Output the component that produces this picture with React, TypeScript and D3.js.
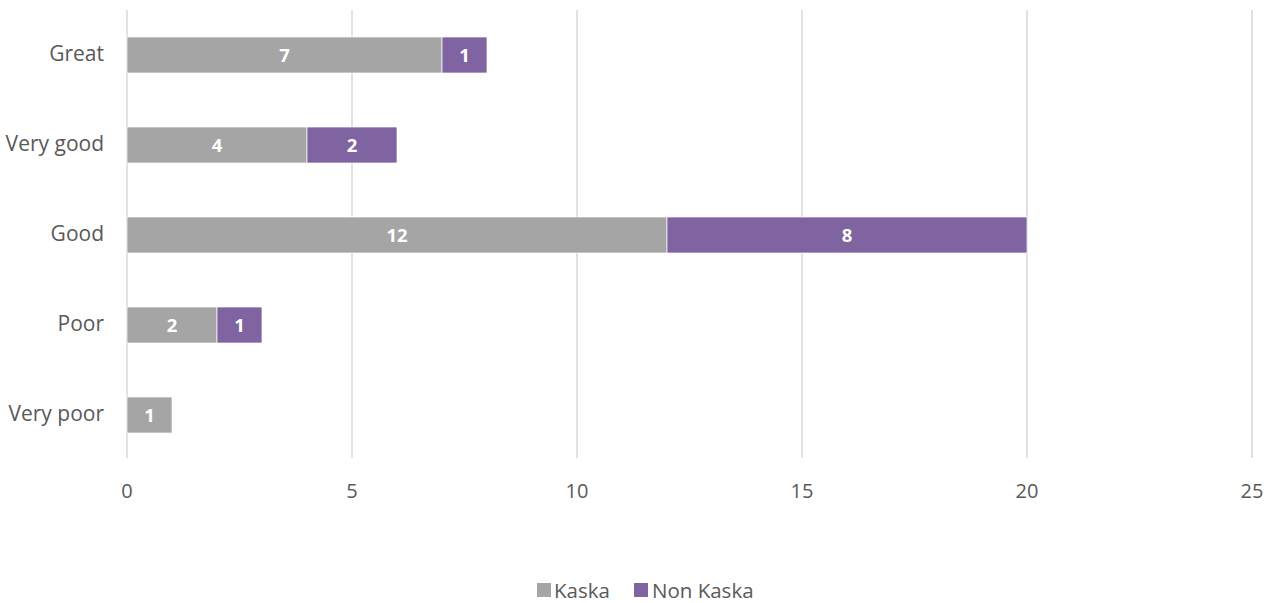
import React from "react";
import * as d3 from "d3";

const categories = ["Great", "Very good", "Good", "Poor", "Very poor"];
const kaska = [7, 4, 12, 2, 1];
const nonKaska = [1, 2, 8, 1, 0];
const xTicks = [0, 5, 10, 15, 20, 25];
const seriesNames = ["Kaska", "Non Kaska"];
const colors = ["#A5A5A5", "#8064A2"];

export default function App() {
  const W = 1276, H = 603;
  const left = 127, right = 1252, top = 10, bottom = 460;
  const x = d3.scaleLinear().domain([0, 25]).range([left, right]);
  const y = d3.scaleBand().domain(categories).range([top, bottom]).paddingInner(0.6).paddingOuter(0.3);
  const font = "'Open Sans', sans-serif";
  const series = [kaska, nonKaska];
  return (
    <svg width={W} height={H} style={{ position: "absolute", left: 0, top: 0 }} fontFamily={font}>
      {xTicks.map((t) => (
        <line key={t} x1={x(t)} x2={x(t)} y1={top} y2={bottom - 2} stroke="#D9D9D9" strokeWidth={1.5} />
      ))}
      {categories.map((c, i) => {
        let acc = 0;
        return (
          <g key={c}>
            {series.map((s, si) => {
              const v = s[i];
              const x0 = acc;
              acc += v;
              if (!v) return null;
              return (
                <g key={si}>
                  <rect x={x(x0)} y={y(c)!} width={x(x0 + v) - x(x0)} height={y.bandwidth()} fill={colors[si]} stroke="#fff" strokeWidth={0.7} />
                  <text x={(x(x0) + x(x0 + v)) / 2} y={y(c)! + y.bandwidth() / 2} dy="0.38em" textAnchor="middle" fill="#fff" fontWeight="bold" fontSize={18.5}>{v}</text>
                </g>
              );
            })}
            <text x={104} y={y(c)! + y.bandwidth() / 2} dy="0.3em" textAnchor="end" fill="#595959" fontSize={21}>{c}</text>
          </g>
        );
      })}
      {xTicks.map((t) => (
        <text key={t} x={x(t)} y={498} textAnchor="middle" fill="#595959" fontSize={20}>{t}</text>
      ))}
      <g>
        <rect x={537} y={583} width={14} height={14} fill={colors[0]} />
        <text x={554} y={598} fill="#595959" fontSize={20.5}>{seriesNames[0]}</text>
        <rect x={634} y={583} width={14} height={14} fill={colors[1]} />
        <text x={652} y={598} fill="#595959" fontSize={20.5}>{seriesNames[1]}</text>
      </g>
    </svg>
  );
}
